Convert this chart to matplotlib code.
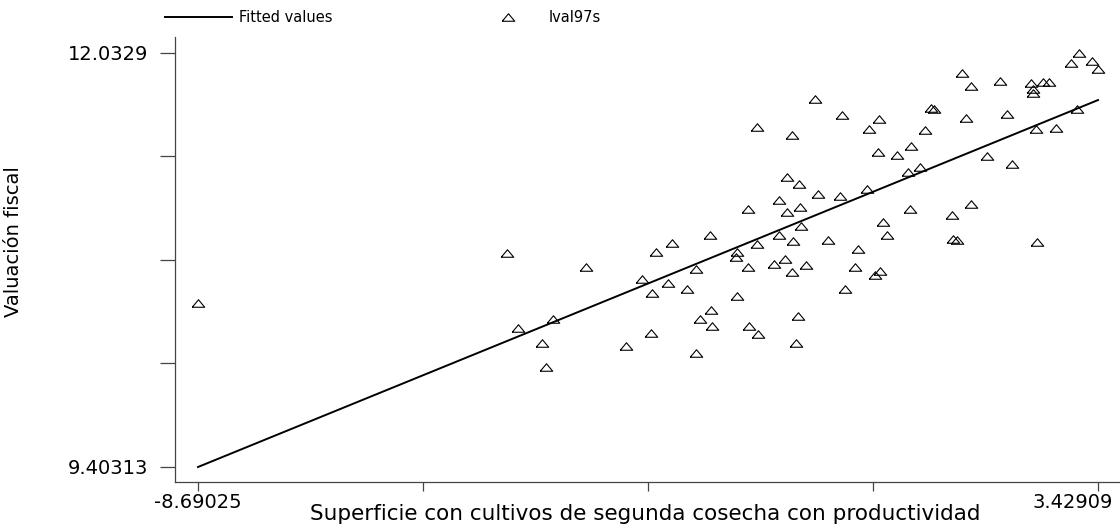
import numpy as np
import matplotlib
matplotlib.use("Agg")
import matplotlib.pyplot as plt
from matplotlib.transforms import ScaledTranslation

# scatter values (x = superficie, y = lval97s)
x_obs = [
    -8.690, -4.529, -4.381, -4.058, -4.004, -3.910, -3.465, -2.927, -2.711, -2.577,
    -2.590, -2.523, -2.307, -2.361, -2.105, -1.984, -1.984, -1.930, -1.782, -1.769,
    -1.795, -1.432, -1.432, -1.445, -1.270, -1.284, -1.284, -1.163, -1.149, -1.163,
    -0.934, -0.866, -0.866, -0.786, -0.759, -0.759, -0.691, -0.691, -0.678, -0.637,
    -0.610, -0.597, -0.583, -0.570, -0.503, -0.382, -0.341, -0.206, -0.045, -0.018,
    0.022, 0.157, 0.197, 0.319, 0.346, 0.426, 0.494, 0.480, 0.467, 0.534,
    0.588, 0.723, 0.871, 0.911, 1.032, 0.898, 1.100, 1.181, 1.221, 1.463,
    1.477, 1.531, 1.598, 1.652, 1.719, 1.719, 1.935, 2.110, 2.204, 2.271,
    2.527, 2.554, 2.554, 2.594, 2.608, 2.689, 2.769, 2.864, 3.066, 3.173,
    3.349, 3.429, 3.147,
]
y_obs = [
    10.443, 10.761, 10.284, 10.189, 10.037, 10.341, 10.672, 10.170, 10.596, 10.507,
    10.253, 10.767, 10.824, 10.570, 10.532, 10.125, 10.659, 10.341, 10.399, 10.297,
    10.875, 10.488, 10.767, 10.735, 10.297, 10.672, 11.040, 10.818, 10.246, 11.561,
    10.691, 11.097, 10.875, 10.723, 11.243, 11.021, 11.510, 10.640, 10.837, 10.189,
    10.361, 11.199, 11.053, 10.932, 10.684, 11.739, 11.135, 10.843, 11.123, 11.637,
    10.532, 10.672, 10.786, 11.167, 11.548, 10.621, 10.646, 11.612, 11.402, 10.958,
    10.875, 11.383, 11.275, 11.440, 11.307, 11.040, 11.542, 11.682, 11.675, 11.002,
    10.850, 10.843, 11.904, 11.618, 11.821, 11.072, 11.377, 11.853, 11.644, 11.326,
    11.841, 11.802, 11.777, 11.548, 10.831, 11.847, 11.847, 11.555, 11.968, 12.0329,
    11.980, 11.929, 11.675,
]

# fitted line end points
fit_x = [-8.69025, 3.42909]
fit_y = [9.40313, 11.7324]

x_range = (-8.69025, 3.42909)
y_range = (9.40313, 12.0329)
x_lim = (-9.000, 3.725)
y_lim = (9.3079, 12.1326)

x_title = "Superficie con cultivos de segunda cosecha con productividad"
y_title = "Valuación fiscal"

plt.rcParams["font.family"] = ["DejaVu Sans"]

fig = plt.figure(figsize=(11.2, 5.25), dpi=100)
ax = fig.add_axes([175 / 1120, 1 - 482 / 525, 1 - 175 / 1120, (482 - 37) / 525])

tri = [(-1, -0.6), (1, -0.6), (0, 0.6), (-1, -0.6)]

ax.plot(fit_x, fit_y, color="black", lw=1.4, label="Fitted values")
ax.plot(x_obs, y_obs, linestyle="none", marker=tri, markersize=9,
        markerfacecolor="none", markeredgecolor="black", markeredgewidth=0.8,
        label="lval97s")

ax.set_xlim(*x_lim)
ax.set_ylim(*y_lim)

for side in ("top", "right"):
    ax.spines[side].set_visible(False)
for side in ("left", "bottom"):
    ax.spines[side].set_color("#444444")
    ax.spines[side].set_linewidth(0.9)

xt = np.linspace(*x_range, 5)
yt = np.linspace(*y_range, 5)
ax.set_xticks(xt)
ax.set_xticklabels(["-8.69025", "", "", "", "3.42909"])
ax.set_yticks(yt)
ax.set_yticklabels(["9.40313", "", "", "", "12.0329"])

ax.tick_params(axis="x", length=6.5, width=0.9, color="#444444", pad=1.5, labelsize=14)
ax.tick_params(axis="y", length=10.8, width=0.9, color="#444444", pad=8.5, labelsize=14)

lbl = ax.get_xticklabels()[-1]
lbl.set_transform(lbl.get_transform() + ScaledTranslation(-0.25, 0, fig.dpi_scale_trans))

fig.text(645 / 1120, 1 - 514 / 525, x_title, ha="center", va="center", fontsize=15.5)
fig.text(14 / 1120, 1 - 242 / 525, y_title, ha="center", va="center",
         rotation=90, fontsize=14)

fig.legend(loc="center left", bbox_to_anchor=(165 / 1120, 1 - 18 / 525), ncol=2,
           frameon=False, fontsize=10.5, handlelength=4.6, handletextpad=0.5,
           columnspacing=9.7, borderpad=0, borderaxespad=0)

fig.savefig("out.png", dpi=100)
